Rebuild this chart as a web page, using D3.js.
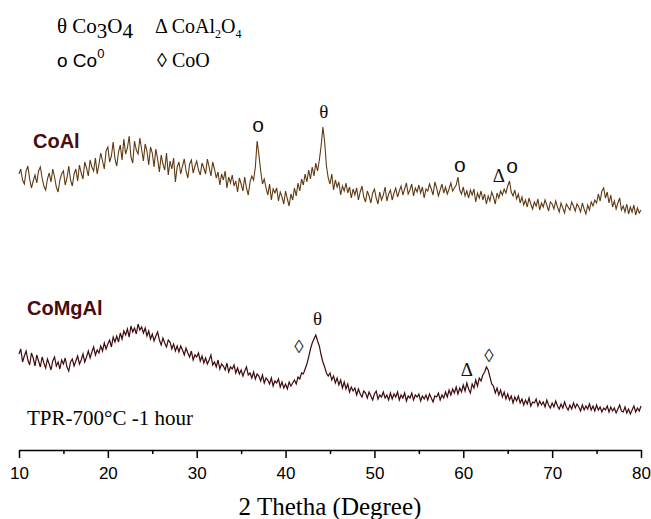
<!DOCTYPE html>
<html>
<head>
<meta charset="utf-8">
<script src="https://cdn.jsdelivr.net/npm/d3@7/dist/d3.min.js"></script>
<style>
  html, body { margin: 0; padding: 0; background: #fff; }
  svg { display: block; }
</style>
</head>
<body>
<script>
// ---------- DATA ----------
const twoThetaStart = 10;
const twoThetaStep = 0.2;
const xTicks = [10, 20, 30, 40, 50, 60, 70, 80];
const xMinorTicks = [15, 25, 35, 45, 55, 65, 75];
const seriesNames = ["CoAl", "CoMgAl"];

// intensity (a.u., stacked with offset), 10 -> 80 deg, step 0.2
const coAl = [
 276,281,270,266,279, 284,271,262,269,275, 267,279,283,272,264, 260,271,277,268,281,
 273,263,258,270,276, 279,265,272,284,270, 264,276,281,269,285, 277,271,288,282,274,
 290,283,279,292,276, 286,297,289,281,299, 303,288,294,308,291, 284,298,305,290,311,
 296,302,314,293,287, 309,300,296,312,301, 289,306,299,285,303, 297,283,301,291,278,
 295,286,280,297,275, 289,281,292,268,283, 288,276,284,291,279, 272,286,290,277,284,
 289,280,275,287,282, 276,291,283,274,288, 281,272,278,265,276, 270,279,262,273,267,
 275,264,269,258,272, 266,259,273,262,255, 268,274,270,283,309, 295,279,266,271,262,
 255,266,250,261,257, 262,249,258,253,246, 259,251,244,256,250, 262,254,267,259,271,
 265,276,268,280,271, 283,274,287,279,290, 304,323,308,284,272, 266,276,260,270,263,
 268,255,264,259,267, 257,263,252,261,255, 262,250,258,264,253, 248,259,254,247,257,
 261,252,246,258,250, 255,263,249,256,260, 250,257,262,253,259, 264,255,261,267,256,
 260,266,254,262,258, 265,257,263,252,261, 259,266,261,255,268, 262,254,260,266,257,
 263,256,261,267,259, 262,265,273,260,256, 263,254,259,252,260, 255,261,248,257,252,
 259,250,256,246,254, 249,258,253,246,257, 252,259,255,261,257, 264,269,258,254,260,
 251,256,247,253,245, 250,243,252,246,241, 248,244,251,240,247, 243,250,245,239,248,
 246,241,249,243,238, 247,242,237,246,243, 240,248,244,239,246, 243,238,247,241,236,
 245,240,248,244,250, 247,256,249,259,262, 252,258,247,255,243, 249,241,247,252,240,
 244,238,246,236,243, 238,245,235,242,237, 240
];

const coMgAl = [
 96,101,88,94,99, 90,85,97,92,84, 95,89,83,93,87, 82,91,86,80,89,
 93,84,88,81,90, 86,92,83,79,88, 91,84,89,94,86, 90,96,88,93,99,
 92,98,103,95,100, 97,104,99,107,101, 106,110,103,113,108, 114,108,117,111,119,
 115,121,113,124,118, 122,116,126,120,123, 117,122,114,119,111, 116,109,114,118,110,
 105,112,107,103,110, 108,101,106,99,104, 98,104,100,95,102, 97,93,99,90,95,
 93,97,89,94,87, 92,86,90,95,85, 88,83,90,81,86, 84,80,87,78,83,
 81,85,77,82,76, 80,74,79,83,75, 77,72,78,71,76, 74,69,75,67,72,
 70,66,72,64,69, 67,71,63,68,62, 66,61,68,64,67, 70,66,73,71,77,
 76,81,86,93,101, 107,111,115,109,104, 95,88,83,77,74, 77,70,74,67,72,
 65,70,62,68,61, 66,58,63,59,62, 55,61,56,53,59, 57,52,58,54,50,
 56,59,51,55,53, 58,52,55,50,57, 51,56,53,58,50, 55,52,57,49,54,
 52,57,50,55,53, 56,49,54,51,55, 50,56,52,48,54, 53,57,50,55,52,
 58,53,60,55,61, 57,63,56,62,58, 65,59,67,61,57, 66,62,70,64,72,
 69,75,78,83,80, 73,66,64,57,62, 55,60,53,58,51, 56,50,54,47,53,
 49,54,47,51,45, 50,46,52,44,48, 47,51,44,49,45, 48,43,50,45,42,
 47,43,49,44,41, 46,42,48,43,40, 45,41,47,42,46, 43,39,45,40,44,
 41,46,40,44,39, 45,40,43,38,42, 40,44,38,43,39, 42,37,41,45,39,
 38,43,37,41,36, 40,44,38,42,39, 44
];

// phase markers: [series, 2theta, intensity, symbol, font]
const markers = [
  ["CoAl", 36.9, 318, "o", "sans"],
  ["CoAl", 44.3, 332, "θ", "serif"],
  ["CoAl", 59.6, 278, "o", "sans"],
  ["CoAl", 64.0, 268, "Δ", "serif"],
  ["CoAl", 65.5, 277, "o", "sans"],
  ["CoMgAl", 41.5, 97, "◊", "serif"],
  ["CoMgAl", 43.6, 125, "θ", "serif"],
  ["CoMgAl", 60.4, 74, "Δ", "serif"],
  ["CoMgAl", 62.9, 88, "◊", "serif"]
];

// ---------- CHART ----------
const W = 651, H = 519;
const svg = d3.select("body").append("svg").attr("width", W).attr("height", H);
const serif = "'Liberation Serif', 'Times New Roman', serif";
const sans = "'Liberation Sans', Arial, sans-serif";

const x = d3.scaleLinear().domain([10, 80]).range([19, 641]);
const y = d3.scaleLinear().domain([0, 450]).range([450, 0]);

const line = d3.line()
  .x((d, i) => x(twoThetaStart + i * twoThetaStep))
  .y(d => y(d));

svg.append("path").datum(coAl)
  .attr("d", line).attr("fill", "none")
  .attr("stroke", "#5e3a12").attr("stroke-width", 1.1);
svg.append("path").datum(coMgAl)
  .attr("d", line).attr("fill", "none")
  .attr("stroke", "#3f0b0d").attr("stroke-width", 1.2);

// axis
const axis = svg.append("g").attr("transform", "translate(0,450)")
  .call(d3.axisBottom(x).tickValues(xTicks).tickSize(8).tickSizeOuter(0).tickPadding(9));
axis.select(".domain").attr("stroke", "#000").attr("stroke-width", 1.5);
axis.selectAll(".tick line").attr("stroke", "#000").attr("stroke-width", 1.5);
axis.selectAll(".tick text").attr("font-family", sans).attr("font-size", 17).attr("fill", "#000");

const minor = svg.append("g").attr("transform", "translate(0,450)")
  .call(d3.axisBottom(x).tickValues(xMinorTicks).tickSize(4).tickFormat(""));
minor.select(".domain").remove();
minor.selectAll(".tick line").attr("stroke", "#000").attr("stroke-width", 1.5);

svg.append("text").attr("x", 330).attr("y", 515)
  .attr("text-anchor", "middle").attr("font-family", serif).attr("font-size", 25)
  .text("2 Thetha (Degree)");

// series labels
svg.append("text").attr("x", 33).attr("y", 148)
  .attr("font-family", sans).attr("font-weight", "bold").attr("font-size", 20)
  .attr("fill", "#4a0c0c").text(seriesNames[0]);
svg.append("text").attr("x", 27).attr("y", 315)
  .attr("font-family", sans).attr("font-weight", "bold").attr("font-size", 20)
  .attr("fill", "#4a0c0c").text(seriesNames[1]);

svg.append("text").attr("x", 27).attr("y", 425)
  .attr("font-family", serif).attr("font-size", 21)
  .text("TPR-700°C -1 hour");

// markers
markers.forEach(m => {
  svg.append("text")
    .attr("x", x(m[1])).attr("y", y(m[2]))
    .attr("text-anchor", "middle")
    .attr("font-family", m[4] === "sans" ? sans : serif)
    .attr("font-size", m[4] === "sans" ? 21 : 19)
    .attr("fill", m[3] === "◊" ? "#333" : "#111")
    .text(m[3]);
});

// legend
const leg1 = svg.append("text").attr("x", 57).attr("y", 33)
  .attr("font-family", serif).attr("font-size", 21);
leg1.append("tspan").text("θ Co");
leg1.append("tspan").attr("dy", 5).text("3");
leg1.append("tspan").attr("dy", -5).text("O");
leg1.append("tspan").attr("dy", 5).text("4");

const leg2 = svg.append("text").attr("x", 155).attr("y", 33)
  .attr("font-family", serif).attr("font-size", 20);
leg2.append("tspan").text("Δ CoAl");
leg2.append("tspan").attr("dy", 5).attr("font-size", 12).text("2");
leg2.append("tspan").attr("dy", -5).text("O");
leg2.append("tspan").attr("dy", 5).attr("font-size", 12).text("4");

const leg3 = svg.append("text").attr("x", 57).attr("y", 67)
  .attr("font-family", sans).attr("font-size", 19);
leg3.append("tspan").text("o Co");
leg3.append("tspan").attr("dy", -9).attr("font-size", 13).text("0");

svg.append("text").attr("x", 157).attr("y", 67)
  .attr("font-family", serif).attr("font-size", 20)
  .text("◊ CoO");
</script>
</body>
</html>
